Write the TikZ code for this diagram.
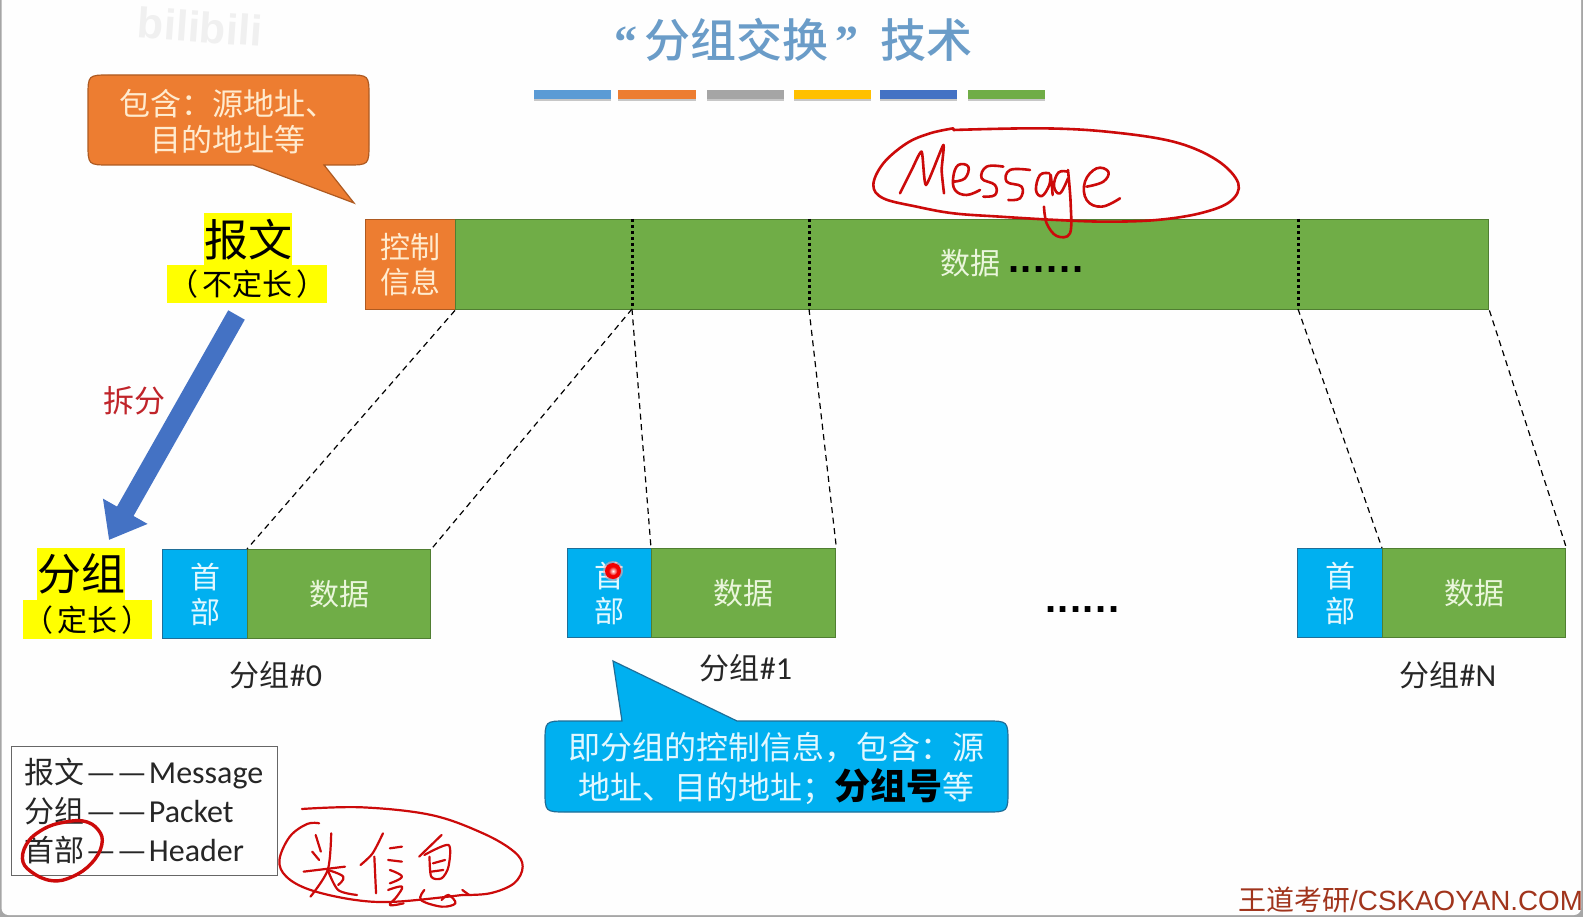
\documentclass[tikz,border=0pt]{standalone}
\usepackage{fontspec}
\usetikzlibrary{arrows.meta}
\setmainfont{Carlito}
\newfontfamily\cjk{Noto Sans CJK SC}
\newfontfamily\cjkm{Noto Sans CJK SC Medium}
\newfontfamily\qfont{Liberation Serif}
\newfontfamily\wmfont{Liberation Sans}
\newfontfamily\dotfont{Liberation Sans}[BoldFont={Liberation Sans Bold}]
\newcommand{\fs}[1]{\fontsize{#1}{#1}\selectfont}
\newcommand{\fl}[2]{\fontsize{#1}{#2}\selectfont}
\newcommand{\sixdots}[1]{\hbox to #1{\dotfont\bfseries.\hfill.\hfill.\hfill.\hfill.\hfill.}}
\newcommand{\ldash}{\hspace{3pt}{\cjk\fs{31}—\hspace{3pt}—}\hspace{3pt}}
\definecolor{pgbg}{HTML}{FEFEFE}
\definecolor{edge}{HTML}{A6A6A6}
\definecolor{tcol}{HTML}{6A9CC8}
\definecolor{bblue}{HTML}{5B9BD5}
\definecolor{borange}{HTML}{ED7D31}
\definecolor{bgray}{HTML}{A5A5A5}
\definecolor{bgold}{HTML}{FFC000}
\definecolor{bdblue}{HTML}{4472C4}
\definecolor{bgreen}{HTML}{70AD47}
\definecolor{ogline}{HTML}{AE5A21}
\definecolor{gnline}{HTML}{507E32}
\definecolor{cyanb}{HTML}{00B0F0}
\definecolor{cyline}{HTML}{1F6E98}
\definecolor{hl}{HTML}{FFFF00}
\definecolor{inkred}{HTML}{CC0A0A}
\definecolor{wmcol}{HTML}{A0341C}
\definecolor{splitred}{HTML}{C0242A}
\definecolor{txto}{HTML}{FFEBCF}
\definecolor{txtg}{HTML}{EAF6DC}
\definecolor{txtb}{HTML}{E2F8FF}
\tikzset{
  bar/.style={fill=#1,draw=none},
  barshadow/.style={fill=black!22,draw=none},
  databox/.style={draw=gnline,line width=1.4pt,fill=bgreen,inner sep=0pt,anchor=north west,text=txtg,font=\cjk\fs{30}},
  ctrlbox/.style={draw=ogline,line width=1.4pt,fill=borange,inner sep=0pt,anchor=north west,text=txto,align=center,font=\cjk\fl{30}{35}},
  headbox/.style={draw=cyline,line width=1.4pt,fill=cyanb,inner sep=0pt,anchor=north west,text=txtb,align=center,font=\cjk\fl{30}{35}},
  hlbox/.style={fill=hl,inner sep=0pt,anchor=north west,text=black},
  lbl/.style={font=\cjk\fs{30},text=black!85,inner sep=0pt},
  guide/.style={draw=black,line width=1.2pt,dash pattern=on 6pt off 4.5pt},
  split/.style={draw=black,line width=3pt,dash pattern=on 3pt off 3pt},
  hand/.style={draw=inkred,line width=2.6pt,line cap=round,line join=round},
  handthin/.style={draw=inkred,line width=2.2pt,line cap=round,line join=round},
}
\begin{document}
\begin{tikzpicture}[x=1pt,y=-1pt]
\useasboundingbox (0,0) rectangle (1583,917);
\fill[edge] (0,0) rectangle (1583,917);
\fill[pgbg,rounded corners=7pt] (1.5,-12) rectangle (1581,915);
% faint watermark
\node[inner sep=0pt,text=black!6,font=\dotfont\bfseries\fs{43},rotate=-4] (bili) at (200,27) {bilibili};
% title
\node[inner sep=0pt,text=tcol,font=\cjkm\fs{46}] (title) at (793,40) {{\qfont\bfseries “}\hspace{7pt}分组交换\hspace{7pt}{\qfont\bfseries ”}\hspace{22pt}技术};
% colour bars
\foreach \a/\b/\c in {534/611/bblue,618/696/borange,707/784/bgray,794/871/bgold,880/957/bdblue,968/1045/bgreen}{
  \fill[barshadow] (\a,92) rectangle (\b,101);
  \fill[bar=\c] (\a,90) rectangle (\b,99);
}
% orange callout
\draw[draw=ogline,line width=1.2pt,fill=borange,line join=miter]
  (324,165) -- (347,165) .. controls (369,165) .. (369,143) -- (369,97)
  .. controls (369,75) .. (347,75) -- (110,75) .. controls (88,75) .. (88,97)
  -- (88,143) .. controls (88,165) .. (110,165) -- (253,165) -- (354,203) -- cycle;
\node[inner sep=0pt,text=txto,align=center,font=\cjk\fl{31}{36}] (ocall) at (228,122) {包含：源地址、\\目的地址等};
% highlighted labels
\node[hlbox,minimum width=85pt,minimum height=52pt,font=\cjk\fs{44}] (baowen) at (204,213) {报文};
\node[hlbox,minimum width=160pt,minimum height=38pt,font=\cjk\fs{30}] (budingchang) at (167,265) {（\hspace{4pt}不定长\hspace{4pt}）};
\node[hlbox,minimum width=85pt,minimum height=52pt,font=\cjk\fs{44}] (fenzu) at (37,548) {分组};
\node[hlbox,minimum width=129pt,minimum height=39pt,font=\cjk\fs{30}] (dingchang) at (23,600) {（\hspace{4pt}定长\hspace{4pt}）};
% message bar
\node[ctrlbox,minimum width=90pt,minimum height=90pt] (ctrl) at (365,219) {控制\\信息};
\node[databox,minimum width=1033pt,minimum height=90pt] (msg) at (455,219) {};
\node[inner sep=0pt,text=txtg,font=\cjk\fs{30}] (msgdata) at (970,263) {数据};
\node[inner sep=0pt,anchor=base west,text=black,font=\fs{40}] (msgdots) at (1008,273) {\sixdots{75pt}};
% splits
\foreach \n/\x in {a/632,b/809,c/1298}{
  \coordinate (s\n t) at (\x,219);
  \coordinate (s\n b) at (\x,309);
  \draw[split] (s\n t) -- (s\n b);
}
% packets
\node[headbox,minimum width=85pt,minimum height=89pt] (h0) at (162,549) {首\\部};
\node[databox,minimum width=183pt,minimum height=89pt] (d0) at (247,549) {数据};
\node[headbox,minimum width=84pt,minimum height=89pt] (h1) at (567,548) {首\\部};
\node[databox,minimum width=184pt,minimum height=89pt] (d1) at (651,548) {数据};
\node[headbox,minimum width=85pt,minimum height=89pt] (hn) at (1297,548) {首\\部};
\node[databox,minimum width=183pt,minimum height=89pt] (dn) at (1382,548) {数据};
% dashed guides
\draw[guide] (msg.south west) -- (d0.north west);
\draw[guide] (sab) -- (d0.north east);
\draw[guide] (sab) -- (d1.north west);
\draw[guide] (sbb) -- (d1.north east);
\draw[guide] (scb) -- (dn.north west);
\draw[guide] (msg.south east) -- (dn.north east);
% labels
\node[lbl] (l0) at (276,675) {分组{\fs{32}\rmfamily\#0}};
\node[lbl] (l1) at (746,668) {分组{\fs{32}\rmfamily\#1}};
\node[lbl] (ln) at (1448,675) {分组{\fs{32}\rmfamily\#N}};
\node[inner sep=0pt,anchor=base west,text=black,font=\fs{40}] (middots) at (1045,612) {\sixdots{74pt}};
% big arrow
\coordinate (astart) at (236.5,315);
\coordinate (atip) at (109,540);
\draw[draw=bdblue,line width=19pt,-{Triangle[length=33pt,width=49pt]}] (astart) -- (atip);
\node[inner sep=0pt,text=splitred,font=\cjk\fs{31}] (chaifen) at (134,401) {拆分};
% cyan callout
\draw[draw=cyline,line width=1.2pt,fill=cyanb,line join=miter]
  (622,721) -- (613,661) -- (737,721) -- (986,721) .. controls (1008,721) .. (1008,743)
  -- (1008,790) .. controls (1008,812) .. (986,812) -- (567,812) .. controls (545,812) .. (545,790)
  -- (545,743) .. controls (545,721) .. (567,721) -- cycle;
\node[inner sep=0pt,text=txtb,align=center,font=\cjk\fl{32}{40}] (ccall) at (776,768) {即分组的控制信息，包含：源\\地址、目的地址；{\fs{36}\bfseries\color{black}分组号}等};
% legend
\node[draw=black!60,line width=1pt,fill=pgbg,anchor=north west,minimum width=266pt,minimum height=129pt,text width=240pt,inner xsep=13pt,inner ysep=0pt,align=left,text=black!85,font=\fl{32}{39}] (legend) at (11,746)
  {{\cjk\fs{30}报文}\ldash Message\\{\cjk\fs{30}分组}\ldash Packet\\{\cjk\fs{30}首部}\ldash Header};
% laser dot
\fill[red!35,opacity=.55] (613,571) circle[radius=10pt];
\fill[red!95!black] (613,571) circle[radius=8pt];
\shade[inner color=white,outer color=red!95!black] (613,571) circle[radius=4.5pt];
% watermark
\node[inner sep=0pt,anchor=base west,text=wmcol,font=\wmfont\fs{27.8}] (wm) at (1238,910) {{\cjk\fs{28}王道考研}/CSKAOYAN.COM};
% handwriting: Message
\begin{scope}[shift={(840,110)},xscale=0.3333,yscale=0.3333]
\draw[hand] plot[smooth,tension=0.6] coordinates {(340,60)(600,55)(800,65)(1000,95)(1130,150)(1195,220)(1170,275)(1080,310)(950,330)(800,335)(650,330)(480,320)(340,310)(230,290)(130,265)(100,225)(130,160)(200,100)(270,70)(340,55)};
\draw[hand] plot[smooth,tension=0.35] coordinates {(180,250)(215,180)(245,125)(258,225)(310,105)(305,180)(312,250)};
\draw[hand] plot[smooth,tension=0.7] coordinates {(340,215)(375,205)(385,170)(355,165)(340,200)(345,240)(380,255)(420,240)};
\draw[hand] plot[smooth,tension=0.7] coordinates {(490,170)(440,170)(425,205)(465,225)(465,255)(430,260)};
\draw[hand] plot[smooth,tension=0.7] coordinates {(570,180)(510,180)(500,215)(545,230)(540,265)(505,270)};
\draw[hand] plot[smooth,tension=0.7] coordinates {(628,190)(600,195)(588,240)(606,258)(628,225)(632,195)(638,255)};
\draw[hand] plot[smooth,tension=0.7] coordinates {(682,185)(655,188)(642,228)(660,250)(684,205)};
\draw[hand] plot[smooth,tension=0.6] coordinates {(684,180)(692,280)(690,370)(650,378)(620,340)(612,290)};
\draw[hand] plot[smooth,tension=0.7] coordinates {(740,230)(790,215)(805,185)(770,175)(735,215)(740,270)(785,290)(840,265)};
\end{scope}
% handwriting: circle round header, and the note
\begin{scope}[shift={(0,720)},xscale=0.345,yscale=0.3333]
\draw[hand,line width=3.4pt] plot[smooth,tension=0.7] coordinates {(130,325)(170,310)(240,303)(285,330)(295,375)(265,430)(210,470)(150,482)(90,455)(65,415)(85,360)(130,325)};
\draw[handthin] plot[smooth,tension=0.6] coordinates {(875,267)(1050,262)(1250,285)(1400,340)(1490,395)(1515,440)(1490,490)(1420,520)(1340,525)};
\draw[handthin] plot[smooth,tension=0.6] coordinates {(1340,525)(1150,545)(1030,540)(900,510)(830,470)(810,420)(840,350)(890,312)(925,310)};
\draw[handthin] (915,345) -- (930,395);
\draw[handthin] (905,395) -- (925,420);
\draw[handthin] (880,455) -- (1000,440);
\draw[handthin] plot[smooth,tension=0.5] coordinates {(960,340)(950,450)(900,530)};
\draw[handthin] plot[smooth,tension=0.5] coordinates {(950,450)(980,510)(1035,525)};
\draw[handthin] plot[smooth,tension=0.7] coordinates {(950,450)(995,470)(980,495)};
\draw[handthin] plot[smooth,tension=0.5] coordinates {(1110,340)(1080,400)(1045,435)};
\draw[handthin] (1085,410) -- (1090,520);
\draw[handthin] (1130,385) -- (1165,380);
\draw[handthin] (1125,420) -- (1165,425);
\draw[handthin] plot[smooth,tension=0.7] coordinates {(1130,450)(1165,470)(1130,490)};
\draw[handthin] plot[smooth,tension=0.7] coordinates {(1125,510)(1165,500)(1150,530)(1130,555)(1170,550)};
\draw[handthin] plot[smooth,tension=0.5] coordinates {(1280,345)(1240,385)(1215,410)};
\draw[handthin] plot[smooth,tension=0.5] coordinates {(1230,405)(1300,375)(1300,440)(1280,475)(1250,470)(1245,410)};
\draw[handthin] (1255,430) -- (1290,420);
\draw[handthin] (1250,455) -- (1285,450);
\draw[handthin] plot[smooth,tension=0.6] coordinates {(1230,510)(1220,540)(1280,560)(1320,550)(1300,525)(1280,540)};
\draw[handthin] (1340,510) -- (1360,525);
\end{scope}
\end{tikzpicture}
\end{document}
